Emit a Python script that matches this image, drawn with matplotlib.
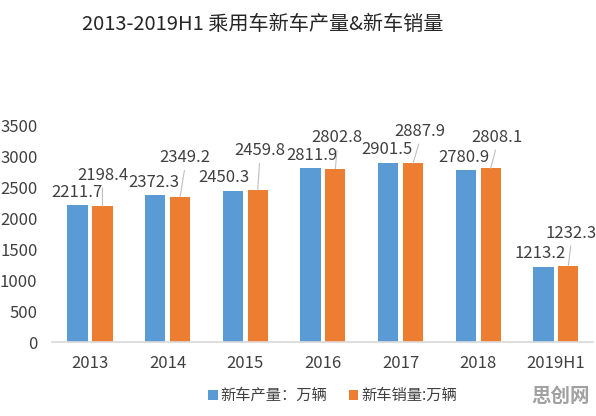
import numpy as np
import matplotlib.pyplot as plt

plt.rcParams['font.family'] = ['Noto Sans CJK SC', 'DejaVu Sans']

# 数据
years = ['2013', '2014', '2015', '2016', '2017', '2018', '2019H1']
production = [2211.7, 2372.3, 2450.3, 2811.9, 2901.5, 2780.9, 1213.2]
sales = [2198.4, 2349.2, 2459.8, 2802.8, 2887.9, 2808.1, 1232.3]
yticks = [0, 500, 1000, 1500, 2000, 2500, 3000, 3500]

blue = '#5B9BD5'
orange = '#ED7D31'
txt = '#404040'

# 标签偏移(像素)
prod_off = [(-1, 13), (-1, 13), (-9, 13), (1, 13), (-1, 13), (-2, 13), (-3, 14)]
sales_off = [(0, 31), (5, 39), (2, 39), (2, 31), (7, 32), (6, 31), (3, 33)]

fig = plt.figure(figsize=(5.96, 4.16), dpi=100)
ax = fig.add_axes([0.0872, 0.1767, 0.908, 0.5216])

x = np.arange(len(years))
w = 0.26
d = 0.16
ax.bar(x - d, production, w, color=blue, label='新车产量：万辆')
ax.bar(x + d, sales, w, color=orange, label='新车销量:万辆')

for i in range(len(years)):
    ax.annotate(f'{production[i]:.1f}', xy=(x[i] - d, production[i]),
                xytext=prod_off[i], textcoords='offset pixels',
                ha='center', va='center', fontsize=12, color=txt)
    ax.annotate(f'{sales[i]:.1f}', xy=(x[i] + d, sales[i]),
                xytext=sales_off[i], textcoords='offset pixels',
                ha='center', va='center', fontsize=12, color=txt,
                arrowprops=dict(arrowstyle='-', color='#BFBFBF', lw=0.8,
                                shrinkA=1, shrinkB=0, relpos=(0.5, 0)))

ax.set_xlim(-0.49, 6.48)
ax.set_ylim(0, 3500)
ax.set_xticks(x)
ax.set_xticklabels(years, fontsize=12, color=txt)
ax.set_yticks(yticks)
ax.set_yticklabels([str(v) for v in yticks], fontsize=12, color=txt)
ax.tick_params(length=0)
ax.tick_params(axis='x', pad=9)
ax.tick_params(axis='y', pad=10.5)
for s in ['top', 'right', 'left']:
    ax.spines[s].set_visible(False)
ax.spines['bottom'].set_color('#D9D9D9')
ax.spines['bottom'].set_linewidth(1.2)

fig.text(0.44, 0.94, '2013-2019H1 乘用车新车产量&新车销量', ha='center', va='center',
         fontsize=14.5, color='#262626')

ax.legend(loc='center', bbox_to_anchor=(0.5 + (332 - 322) / 541, -0.245), ncol=2,
          frameon=False, fontsize=11, handlelength=0.6, handleheight=0.6,
          handletextpad=0.2, columnspacing=1.4, labelcolor=txt)

fig.text(561 / 596, 0.046, '思创网', ha='center', va='center', fontsize=14,
         color='#A0A0A0', fontweight='bold')

plt.savefig('out.png', dpi=100)
